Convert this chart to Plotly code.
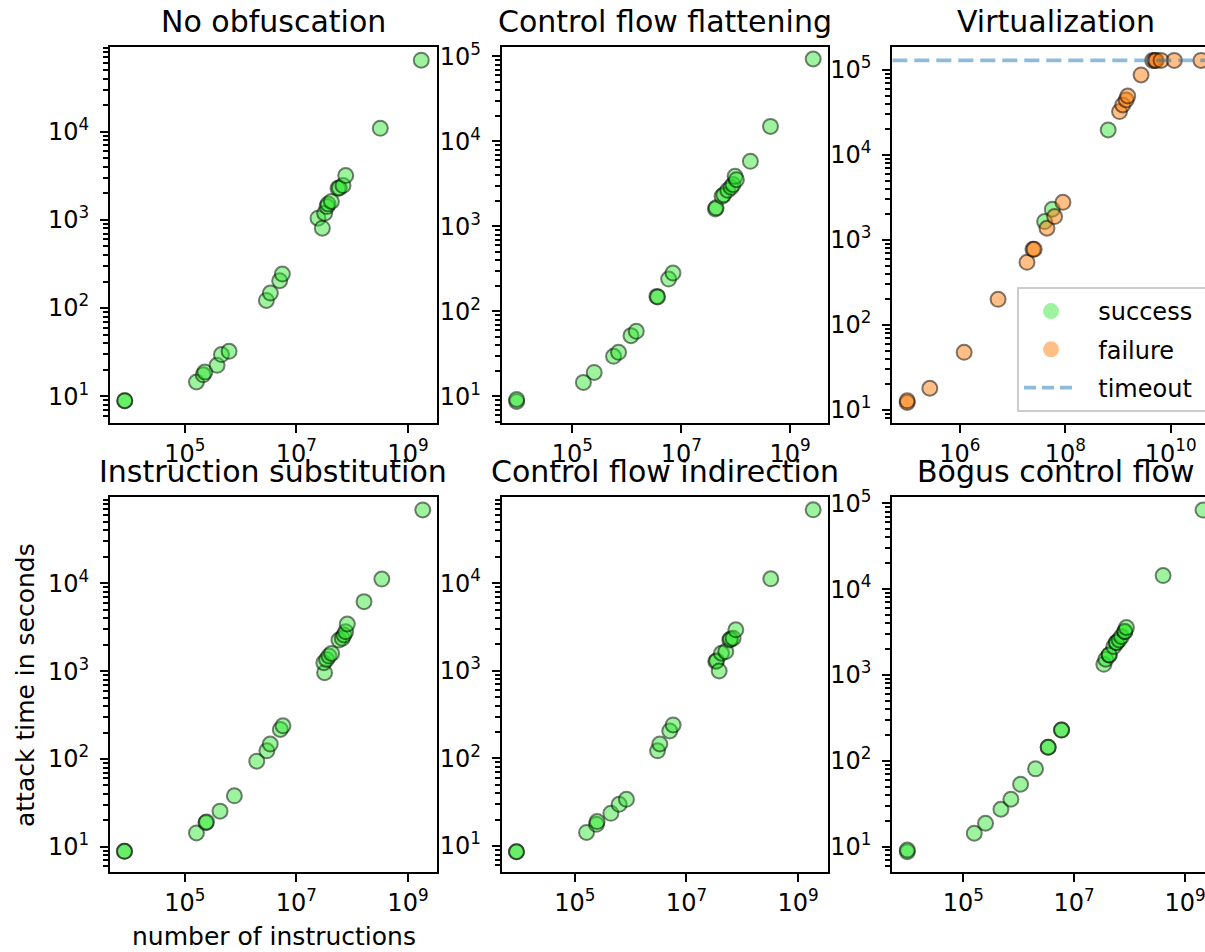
import math
import plotly.graph_objects as go

W, H = 1205, 952
FONT = "DejaVu Sans"
TIMEOUT = 129600

titles = ["No obfuscation", "Control flow flattening", "Virtualization",
          "Instruction substitution", "Control flow indirection", "Bogus control flow"]

# --- data ---
noobf_x = [8.4e3, 8.4e3, 1.62e5, 2.14e5, 2.29e5, 3.79e5, 4.54e5, 6.22e5, 2.90e6, 3.42e6, 5.02e6, 5.61e6,
           2.44e7, 2.92e7, 3.21e7, 3.54e7, 3.69e7, 4.24e7, 5.57e7, 5.89e7, 6.85e7, 7.66e7, 3.19e8, 1.73e9]
noobf_y = [8.9, 8.9, 14.5, 17.5, 18.8, 22.4, 29.7, 32.3, 122, 148, 204, 243,
           1045, 805, 1189, 1416, 1517, 1614, 2281, 2300, 2449, 3177, 10900, 64700]

cff_x = [9.44e3, 9.44e3, 1.59e5, 2.51e5, 5.69e5, 7.03e5, 1.19e6, 1.49e6, 3.56e6, 3.67e6, 5.85e6, 7.03e6,
         4.23e7, 4.37e7, 5.60e7, 6.03e7, 7.13e7, 8.20e7, 8.91e7, 9.73e7, 1.03e8, 1.86e8, 4.35e8, 2.65e9]
cff_y = [8.7, 9.2, 14.6, 19.1, 29.6, 33, 51.8, 58.2, 150, 148, 240, 282,
         1600, 1650, 2254, 2350, 2656, 2878, 3100, 3873, 3540, 5820, 15000, 93100]

virt_success_x = [4.06e7, 5.68e7, 6.52e8]
virt_success_y = [1644, 2296, 19700]
virt_failure_x = [1.007e5, 1.007e5, 2.70e5, 1.21e6, 5.32e6, 1.88e7, 2.44e7, 2.57e7, 4.50e7, 6.28e7, 9.04e7,
                  1.07e9, 1.23e9, 1.43e9, 1.53e9, 2.74e9, 4.56e9, 5.01e9, 5.27e9, 6.56e9, 1.17e10, 3.75e10]
virt_failure_y = [12.2, 12.8, 18, 47.7, 200, 546, 776, 776, 1372, 1884, 2774,
                  32400, 38700, 44400, 49400, 87300, 129600, 129600, 129600, 129600, 129600, 129600]

subst_x = [8.30e3, 8.30e3, 1.62e5, 2.39e5, 2.45e5, 4.28e5, 7.74e5, 1.95e6, 2.96e6, 3.40e6, 5.15e6, 5.75e6,
           3.20e7, 3.10e7, 3.48e7, 3.83e7, 4.28e7, 5.79e7, 6.65e7, 7.13e7, 7.64e7, 8.18e7, 1.63e8, 3.40e8, 1.84e9]
subst_y = [8.9, 8.9, 14.4, 18.8, 19.2, 25.5, 38.1, 94.6, 124, 148, 217, 239,
           961, 1248, 1361, 1486, 1595, 2263, 2366, 2582, 2818, 3444, 6195, 11200, 68500]

indir_x = [9.02e3, 9.02e3, 1.62e5, 2.44e5, 2.51e5, 4.42e5, 6.22e5, 8.41e5, 3.03e6, 3.33e6, 5.02e6, 5.77e6,
           3.35e7, 3.47e7, 3.85e7, 4.24e7, 5.06e7, 5.97e7, 6.17e7, 6.85e7, 7.66e7, 3.24e8, 1.86e9]
indir_y = [8.6, 8.6, 14.3, 17.7, 19, 23.6, 29.9, 34.1, 122, 146, 206, 241,
           1274, 1300, 996, 1585, 1657, 2248, 2300, 2354, 2932, 11200, 68700]

bogus_x = [9.79e3, 9.79e3, 1.58e5, 2.52e5, 4.78e5, 7.23e5, 1.08e6, 2.01e6, 3.40e6, 3.40e6, 5.92e6, 5.92e6,
           3.43e7, 3.72e7, 4.28e7, 4.28e7, 5.19e7, 5.79e7, 5.79e7, 6.47e7, 7.13e7, 8.18e7, 8.18e7, 8.77e7,
           4.02e8, 2.11e9]
bogus_y = [8.7, 9.1, 14.3, 18.7, 27.2, 35.6, 53.2, 80.4, 143.6, 143.6, 228, 228,
           1330, 1523, 1711, 1711, 2138, 2381, 2381, 2560, 2801, 3199, 3199, 3560,
           14370, 83500]

x_ticks_a = [1e5, 1e7, 1e9]
x_ticks_b = [1e6, 1e8, 1e10]
y_ticks = [1e1, 1e2, 1e3, 1e4, 1e5]

# --- layout geometry (pixels) ---
cols = [(110, 437), (501.7, 827.7), (892.3, 1205)]
rows = [(47, 422.7), (497.3, 872.3)]
xranges = [(3.66, 9.52), (3.70, 9.69), (4.72, 10.65), (3.66, 9.52), (3.69, 9.53), (3.72, 9.36)]
yranges = [(0.70, 4.96), (0.69, 5.11), (0.85, 5.27), (0.71, 4.98), (0.70, 4.98), (0.70, 5.07)]

GREEN = "rgba(40,230,40,0.45)"
ORANGE = "rgba(255,127,14,0.5)"
EDGE = "rgba(0,0,0,0.5)"
BLUE = "rgba(31,119,180,0.5)"
DASH = "15px,7px"


def sup_label(v):
    e = int(round(math.log10(v)))
    return "10<sup>%d</sup>" % e


minor_vals = [m * 10 ** k for k in range(0, 6) for m in range(2, 10)]

fig = go.Figure()

series = [
    [(noobf_x, noobf_y, GREEN)],
    [(cff_x, cff_y, GREEN)],
    [(virt_success_x, virt_success_y, GREEN), (virt_failure_x, virt_failure_y, ORANGE)],
    [(subst_x, subst_y, GREEN)],
    [(indir_x, indir_y, GREEN)],
    [(bogus_x, bogus_y, GREEN)],
]

for i in range(6):
    r, c = divmod(i, 3)
    n = "" if i == 0 else str(i + 1)
    for xs, ys, col in series[i]:
        fig.add_trace(go.Scatter(x=xs, y=ys, mode="markers", xaxis="x" + n, yaxis="y" + n,
                                 showlegend=False, hoverinfo="x+y",
                                 marker=dict(size=15, color=col, line=dict(color=EDGE, width=2))))
    x0, x1 = cols[c]
    y0, y1 = rows[r]
    xt = x_ticks_b if i == 2 else x_ticks_a
    fig.layout["xaxis" + n] = dict(
        type="log", range=list(xranges[i]), domain=[x0 / W, x1 / W],
        anchor="y" + n, showgrid=False, zeroline=False,
        showline=True, linecolor="black", linewidth=2, mirror=True,
        ticks="outside", ticklen=8, tickwidth=2, tickcolor="black",
        tickvals=xt, ticktext=[sup_label(v) for v in xt],
        tickfont=dict(family=FONT, size=24, color="black"),
        ticklabeloverflow="allow",
    )
    fig.layout["yaxis" + n] = dict(
        type="log", range=list(yranges[i]), domain=[1 - y1 / H, 1 - y0 / H],
        anchor="x" + n, showgrid=False, zeroline=False,
        showline=True, linecolor="black", linewidth=2, mirror=(c != 2),
        ticks="outside", ticklen=8, tickwidth=2, tickcolor="black",
        tickvals=y_ticks, ticktext=[sup_label(v) for v in y_ticks],
        tickfont=dict(family=FONT, size=24, color="black"),
        ticklabelstandoff=6, ticklabeloverflow="allow",
        minor=dict(tickvals=minor_vals, ticks="outside", ticklen=5, tickwidth=1.5, tickcolor="black"),
    )
    # subplot title, centred over the full (possibly clipped) axes width
    full_right = x0 + 326.5
    fig.add_annotation(text=titles[i], xref="paper", yref="paper",
                       x=(x0 + full_right) / 2 / W, y=1 - (y0 - 26) / H,
                       xanchor="center", yanchor="middle", showarrow=False,
                       font=dict(family=FONT, size=30, color="black"))

# timeout line on virtualization panel, spanning its x range
vx = [10 ** xranges[2][0], 10 ** xranges[2][1]]
fig.add_trace(go.Scatter(x=vx, y=[TIMEOUT, TIMEOUT], mode="lines", xaxis="x3", yaxis="y3",
                         line=dict(color=BLUE, width=3.75, dash=DASH), name="timeout",
                         showlegend=False, hoverinfo="skip"))

# legend proxies
PAD = "\u00a0\u00a0"
TAIL = "\u00a0\u00a0"
fig.add_trace(go.Scatter(x=[None], y=[None], mode="markers", name=PAD + "success" + TAIL, xaxis="x3", yaxis="y3",
                         legendgroup="a", marker=dict(size=16, color=GREEN)))
fig.add_trace(go.Scatter(x=[None], y=[None], mode="markers", name=PAD + "failure", xaxis="x3", yaxis="y3",
                         legendgroup="b", marker=dict(size=16, color=ORANGE)))
fig.add_trace(go.Scatter(x=[None], y=[None], mode="lines", name=PAD + "timeout", xaxis="x3", yaxis="y3",
                         legendgroup="c", line=dict(color=BLUE, width=3.75, dash="12px,6px")))

# axis labels
fig.add_annotation(text="number of instructions", xref="paper", yref="paper",
                   x=274 / W, y=1 - 936 / H, xanchor="center", yanchor="middle", showarrow=False,
                   font=dict(family=FONT, size=25, color="black"))
fig.add_annotation(text="attack time in seconds", xref="paper", yref="paper",
                   x=25 / W, y=1 - 685 / H, xanchor="center", yanchor="middle", showarrow=False,
                   textangle=-90, font=dict(family=FONT, size=25, color="black"))

fig.update_layout(
    width=W, height=H,
    margin=dict(l=0, r=0, t=0, b=0, autoexpand=False),
    paper_bgcolor="white", plot_bgcolor="white",
    font=dict(family=FONT, size=24, color="black"),
    legend=dict(x=1017 / W, y=1 - 287 / H, xanchor="left", yanchor="top",
                bgcolor="white", bordercolor="#cccccc", borderwidth=2,
                font=dict(family=FONT, size=24, color="black"),
                itemwidth=54, tracegroupgap=4, traceorder="grouped"),
)

fig.write_html("out.html", config={"displayModeBar": False},
               post_script="document.body.style.margin='0';document.body.style.overflow='hidden';")
